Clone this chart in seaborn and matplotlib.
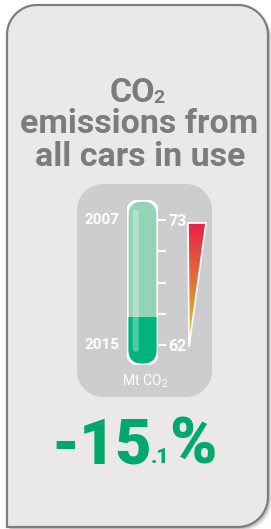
import numpy as np
import pandas as pd
import matplotlib
matplotlib.use('Agg')
import matplotlib.pyplot as plt
import seaborn as sns
from matplotlib.patches import Polygon, FancyBboxPatch
from matplotlib.colors import LinearSegmentedColormap

sns.set_theme(style='white')
plt.rcParams['font.family'] = ['Roboto', 'DejaVu Sans']

# data read from the infographic
years = ['2007', '2015']
emissions = [73, 62]          # Mt CO2
tick_values = [73, 70.25, 67.5, 64.75, 62]
tick_labels = ['73', '', '', '', '62']
fill_level = [64.5]           # where the dark fill stops in the tube
change_pct = -15.1

grey_txt = '#7b7c80'
green = '#00a96b'
card_fill = '#eae9e7'
box_fill = '#cdcdcf'

W, H = 271, 529
fig = plt.figure(figsize=(W / 100, H / 100), dpi=100)
fig.patch.set_facecolor('white')
ax = fig.add_axes([0, 0, 1, 1])
ax.set_xlim(0, W)
ax.set_ylim(H, 0)
ax.axis('off')


def rounded(x0, y0, x1, y1, r):
    # r = (top-left, top-right, bottom-right, bottom-left), y grows downwards
    pts = []
    corners = [(x0 + r[0], y0 + r[0], r[0], 180, 270),
               (x1 - r[1], y0 + r[1], r[1], 270, 360),
               (x1 - r[2], y1 - r[2], r[2], 0, 90),
               (x0 + r[3], y1 - r[3], r[3], 90, 180)]
    for cx, cy, rr, a0, a1 in corners:
        t = np.radians(np.linspace(a0, a1, 20))
        pts += list(zip(cx + rr * np.cos(t), cy + rr * np.sin(t)))
    return np.array(pts)


# card + shadow
card = rounded(7, 5, 268, 527, (30, 30, 30, 0))
for k, a in [(4, 0.08), (3, 0.12), (2, 0.18)]:
    ax.add_patch(Polygon(card + [k, k], closed=True, fc='#555555', ec='none', alpha=a))
ax.add_patch(Polygon(card, closed=True, fc=card_fill, ec='#7e7e82', lw=1.6))

# inner grey box
ax.add_patch(Polygon(rounded(77, 184, 212, 397, (26, 26, 26, 26)), closed=True,
                     fc=box_fill, ec='none'))

# title
ax.text(155, 102, 'CO', ha='right', va='baseline', fontsize=24.5, fontweight='bold', color=grey_txt)
ax.text(153.5, 103, '2', ha='left', va='baseline', fontsize=14, fontweight='bold', color=grey_txt)
ax.text(139, 133, 'emissions from', ha='center', va='baseline', fontsize=24.5,
        fontweight='bold', color=grey_txt)
ax.text(140, 166, 'all cars in use', ha='center', va='baseline', fontsize=24.5,
        fontweight='bold', color=grey_txt)

# gradient wedge
cmap = LinearSegmentedColormap.from_list('heat', ['#e8224a', '#e0773c', '#d9db2a'])
grad = np.linspace(0, 1, 200).reshape(-1, 1)
im = ax.imshow(grad, cmap=cmap, extent=[188, 206, 347, 223], aspect='auto', zorder=3)
wedge = Polygon([[188, 223], [206, 223], [189, 347]], closed=True, fc='none',
                ec='white', lw=1.2, zorder=4)
ax.add_patch(wedge)
im.set_clip_path(wedge)
ax.set_xlim(0, W)
ax.set_ylim(H, 0)

# unit label
ax.text(161, 385, 'Mt CO', ha='right', va='baseline', fontsize=10, color='white')
ax.text(161.5, 387, '2', ha='left', va='baseline', fontsize=7, color='white')

# big change figure
big = f'{change_pct:.1f}'
whole, dec = big.split('.')
ax.text(152, 463, whole, ha='right', va='baseline', fontsize=45, fontweight='black', color=green)
ax.text(150.5, 463, '.' + dec, ha='left', va='baseline', fontsize=15, fontweight='black', color=green)
ax.text(169, 463, '%', ha='left', va='baseline', fontsize=46, fontweight='black', color=green)

# thermometer axes: y in Mt CO2
tx0, ty0, tw, th = 127, 200, 31, 165
per_unit = (345 - 220) / (emissions[0] - emissions[1])
lo = emissions[1] - (ty0 + th - 345) / per_unit
hi = emissions[0] + (220 - ty0) / per_unit
tax = fig.add_axes([tx0 / W, 1 - (ty0 + th) / H, tw / W, th / H])
tax.set_facecolor('none')
for s in tax.spines.values():
    s.set_visible(False)

tube = FancyBboxPatch((0, 0), 1, 1, boxstyle='round,pad=0,rounding_size=0.5',
                      mutation_aspect=tw / th, transform=tax.transAxes,
                      fc='#93d3b6', ec='white', lw=2, zorder=1)
tax.add_patch(tube)

df = pd.DataFrame({'x': ['t'], 'level': fill_level})
sns.barplot(data=df, x='x', y='level', ax=tax, color='#00b57b', saturation=1,
            width=1, linewidth=0, zorder=2)
for p in tax.patches[1:]:
    p.set_clip_path(tube)

# glossy highlight
hl = FancyBboxPatch((0.18, 0.08), 0.2, 0.86, boxstyle='round,pad=0,rounding_size=0.1',
                    mutation_aspect=tw / th, transform=tax.transAxes,
                    fc='white', ec='none', alpha=0.3, zorder=3)
tax.add_patch(hl)
outline = FancyBboxPatch((0, 0), 1, 1, boxstyle='round,pad=0,rounding_size=0.5',
                         mutation_aspect=tw / th, transform=tax.transAxes,
                         fc='none', ec='white', lw=2, zorder=4)
tax.add_patch(outline)

tax.set_xlim(-0.5, 0.5)
tax.set_ylim(lo, hi)
tax.set_xlabel('')
tax.set_ylabel('')
tax.set_xticks([])
tax.yaxis.tick_right()
tax.set_yticks(tick_values)
tax.set_yticklabels(tick_labels)
tax.tick_params(axis='y', right=True, length=5.5, width=1.5, color='white', pad=2,
                labelcolor='white', labelsize=11.5)
for t in tax.get_yticklabels():
    t.set_fontweight('bold')

ytr = tax.get_yaxis_transform()
for yr, v in zip(years, emissions):
    tax.text(-0.23, v, yr, transform=ytr, ha='right', va='center', fontsize=11,
             fontweight='bold', color='white')

fig.savefig('out.png', dpi=100)
